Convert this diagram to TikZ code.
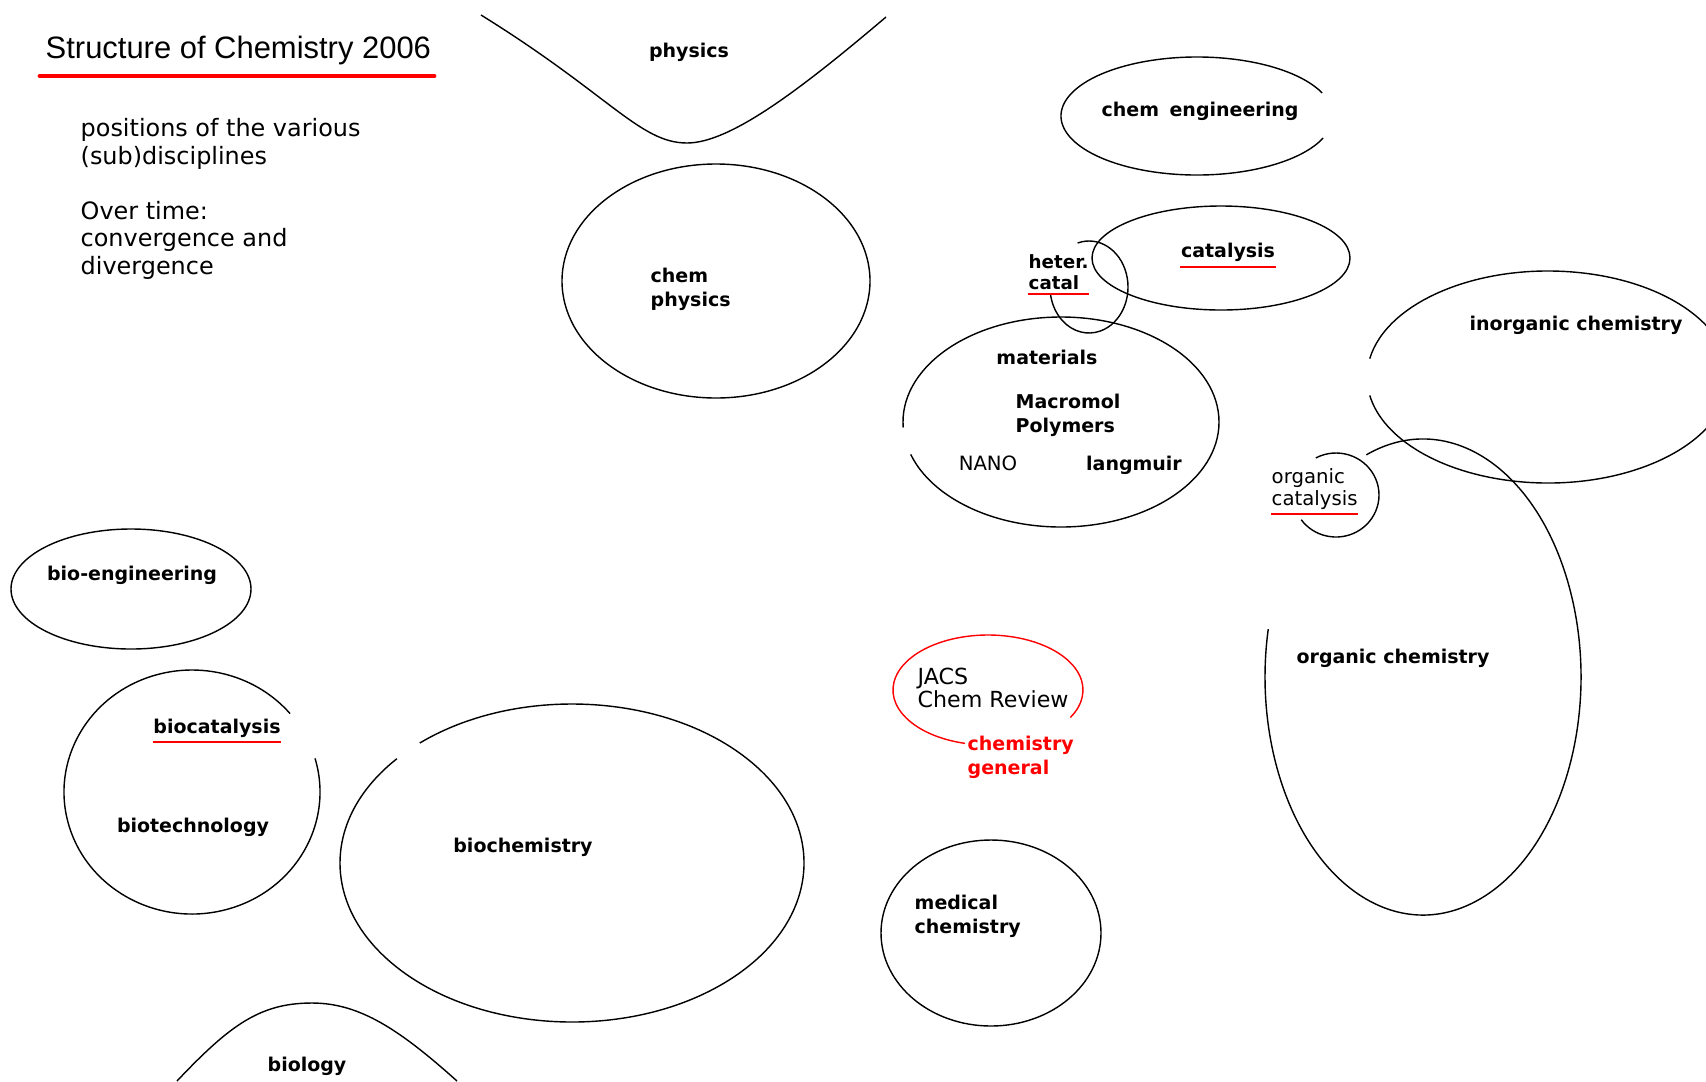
\documentclass[tikz,border=0pt]{standalone}
\usepackage{fontspec}
\setmainfont{DejaVu Sans}
\newfontfamily\titlefont{Liberation Sans}
\usetikzlibrary{positioning}

\begin{document}
\begin{tikzpicture}[
  x=0.01cm, y=-0.01cm,
  ring/.style={line width=0.4pt},
  redring/.style={ring, red},
  lbl/.style={inner sep=0pt, align=left, font=\bfseries\fontsize{5.4}{6.8}\selectfont},
  plain/.style={inner sep=0pt, align=left, font=\fontsize{5.6}{6.4}\selectfont},
  note/.style={inner sep=0pt, align=left, font=\fontsize{6.8}{7.8}\selectfont},
  uline/.style={red, line width=0.6pt},
  rule/.style={red, line width=1.4pt, line cap=round}
]
\useasboundingbox (0,0) rectangle (1706,1081);
\clip (0,0) rectangle (1706,1081);

% heading
\node[inner sep=0pt, anchor=base west, font=\titlefont\fontsize{8.8}{10}\selectfont] (title) at (45,58) {Structure of Chemistry 2006};
\draw[rule] (40,76) -- (434,76);
\node[note, anchor=base west] (notes) at (80,164) {positions of the various\\(sub)disciplines};
\node[note, anchor=base west] (overtime) at (80,274) {Over time:\\convergence and\\divergence};

% areas
\draw[ring] (481,15) .. controls (610,95) and (640,143) .. (687,143) .. controls (730,143) and (800,90) .. (886,17);
\node[lbl] (physics) at (689,52) {physics};

\draw[ring] (716,281) ellipse[x radius=154, y radius=117];
\node[lbl, anchor=west] (chemphys) at (650,289) {chem\\physics};

\draw[ring] (1197,116) ++(22:136 and 59) arc[start angle=22, end angle=337, x radius=136, y radius=59];
\node[lbl] (chemeng) at (1200,111) {chem\hspace{3pt}engineering};

\draw[ring] (1221,258) ellipse[x radius=129, y radius=52];
\node[lbl] (catalysis) at (1228,252) {catalysis};
\draw[uline] ([yshift=-1.5pt]catalysis.south west) -- ([yshift=-1.5pt]catalysis.south east);

\draw[ring] (1089,287) ++(253:39 and 46) arc[start angle=253, end angle=532, x radius=39, y radius=46];
\node[plain, font=\bfseries\fontsize{5.2}{6}\selectfont, anchor=west] (hetcat) at (1028,272) {heter.\\catal};
\draw[uline] ([yshift=-1pt]hetcat.south west) -- ([yshift=-1pt]hetcat.south east);

\draw[ring] (1061,422) ++(177:158 and 105) arc[start angle=177, end angle=522, x radius=158, y radius=105];
\node[lbl] (materials) at (1047,357) {materials};
\node[lbl, anchor=west] (macromol) at (1015,415) {Macromol\\Polymers};
\node[plain] (nano) at (988,463) {NANO};
\node[lbl] (langmuir) at (1134,465) {langmuir};

\draw[ring] (1548,377) ++(190:181 and 106) arc[start angle=190, end angle=530, x radius=181, y radius=106];
\node[lbl] (inorganic) at (1576,325) {inorganic chemistry};

\draw[ring] (1336,495) ++(242:43 and 42) arc[start angle=242, end angle=504, x radius=43, y radius=42];
\node[plain, anchor=west] (orgcat) at (1271,489) {organic\\catalysis};
\draw[uline] ([yshift=-1pt]orgcat.south west) -- ([yshift=-1pt]orgcat.south east);

\draw[ring] (1423,677) ++(249:158 and 238) arc[start angle=249, end angle=551.6, x radius=158, y radius=238];
\node[lbl] (organic) at (1393,658) {organic chemistry};

\draw[redring] (988,690) ++(104:95 and 55) arc[start angle=104, end angle=390, x radius=95, y radius=55];
\node[plain, font=\fontsize{6.3}{6.6}\selectfont, anchor=west] (jacs) at (917,688) {JACS\\Chem Review};
\node[lbl, text=red, anchor=west] (general) at (967,757) {chemistry\\general};

\draw[ring] (991,933) ellipse[x radius=110, y radius=93];
\node[lbl, anchor=west] (medical) at (914,916) {medical\\chemistry};

\draw[ring] (572,863) ++(229:232 and 159) arc[start angle=229, end angle=581, x radius=232, y radius=159];
\node[lbl] (biochem) at (523,847) {biochemistry};

\draw[ring] (192,792) ++(-16:128 and 122) arc[start angle=-16, end angle=320, x radius=128, y radius=122];
\node[lbl] (biocat) at (217,728) {biocatalysis};
\draw[uline] ([yshift=-1.2pt]biocat.south west) -- ([yshift=-1.2pt]biocat.south east);
\node[lbl] (biotech) at (193,827) {biotechnology};

\draw[ring] (131,589) ellipse[x radius=120, y radius=60];
\node[lbl] (bioeng) at (132,575) {bio-engineering};

\draw[ring] (177,1081) .. controls (230,1025) and (260,1003) .. (312,1003) .. controls (360,1003) and (400,1030) .. (457,1081);
\node[lbl] (biology) at (307,1066) {biology};

\end{tikzpicture}
\end{document}
